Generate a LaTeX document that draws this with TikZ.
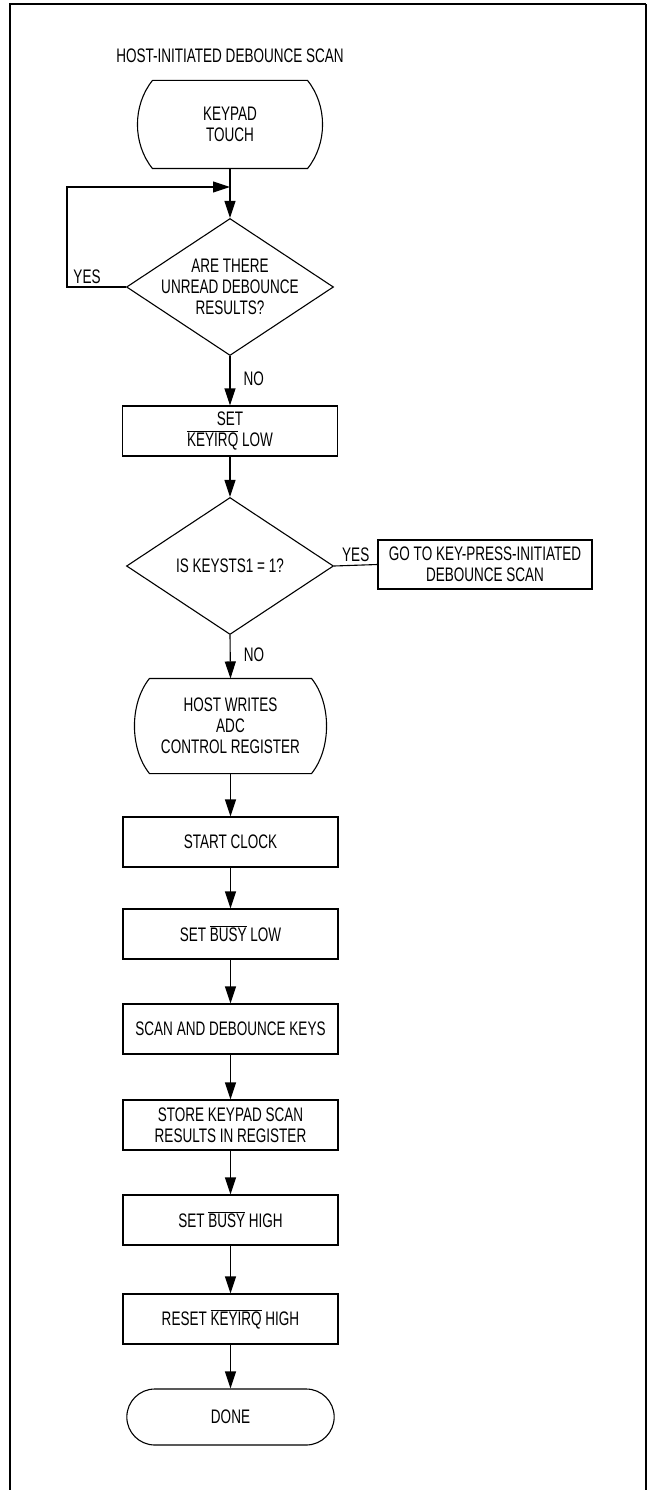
\documentclass[tikz,border=0pt]{standalone}
\usepackage{fontspec}
\setmainfont{Liberation Sans}[FakeStretch=0.69]
\usepackage{tikz}
\usetikzlibrary{arrows.meta,shapes.geometric,shapes.misc}

\newcommand{\ovl}[1]{$\overline{\mbox{#1}}$}
% flat top and bottom, bulging sides
\newcommand{\bulge}[1]{\draw (#1.north west) -- (#1.north east)
    .. controls +(20,-25) and +(20,25) .. (#1.south east) -- (#1.south west)
    .. controls +(-20,25) and +(-20,-25) .. (#1.north west);}

\begin{document}
\begin{tikzpicture}[
    x=1pt, y=1pt, line width=1.1pt,
    arr/.style={-{Triangle[length=17pt,width=11pt]}},
    every node/.style={font=\fontsize{19.6pt}{21pt}\selectfont},
    process/.style={draw, rectangle, minimum width=215pt, minimum height=50pt, align=center, inner sep=2pt},
    decision/.style={draw, diamond, aspect=1.51, minimum width=207pt, minimum height=137pt, inner sep=-4pt, align=center},
    terminal/.style={draw, rounded rectangle, minimum width=214pt, minimum height=56pt},
    bulged/.style={rectangle, align=center, inner sep=0pt},
    lbl/.style={inner sep=3pt}
]
\useasboundingbox (0,0) rectangle (647,-1490);
\draw[line width=2pt] (10,-1490) -- (10,-4) -- (646,-4);
\draw[line width=1.2pt] (646,-4) -- (646,-1490);

\node (title) at (230,-56) {HOST-INITIATED DEBOUNCE SCAN};
\node[bulged, minimum width=154pt, minimum height=87pt] (touch) at (230,-124.5) {KEYPAD\\TOUCH};
\bulge{touch}
\coordinate (merge) at (230,-187);
\node[decision] (unread) at (230,-287) {ARE THERE\\UNREAD DEBOUNCE\\RESULTS?};
\node[process] (irqlow) at (230,-431) {SET\\\ovl{KEYIRQ} LOW};
\node[decision] (keysts) at (230,-566) {IS KEYSTS1 = 1?};
\node[process, minimum width=214pt, minimum height=49pt] (gokey) at (485,-564.5) {GO TO KEY-PRESS-INITIATED\\DEBOUNCE SCAN};
\node[bulged, minimum width=161pt, minimum height=94pt] (adc) at (230.5,-726) {HOST WRITES\\ADC\\CONTROL REGISTER};
\bulge{adc}
\node[process] (clock) at (230.5,-842) {START CLOCK};
\node[process] (busylow) at (230.5,-934) {SET \ovl{BUSY} LOW};
\node[process] (scan) at (230.5,-1029) {SCAN AND DEBOUNCE KEYS};
\node[process] (store) at (230.5,-1125) {STORE KEYPAD SCAN\\RESULTS IN REGISTER};
\node[process] (busyhigh) at (230.5,-1220) {SET \ovl{BUSY} HIGH};
\node[process] (irqhigh) at (230.5,-1319) {RESET \ovl{KEYIRQ} HIGH};
\node[terminal] (done) at (230.5,-1417) {DONE};

\draw[arr] (touch.south) -- (unread.north);
\draw[arr] (unread.west) -- node[lbl, above, pos=0.66] {YES} ++(-59,0) |- (merge);
\draw[arr] (unread.south) -- node[lbl, right=10pt, pos=0.45] {NO} (irqlow.north);
\draw[arr] (irqlow.south) -- (keysts.north);
\draw (keysts.east) -- node[lbl, above] {YES} (gokey.west);
\draw[arr] (keysts.south) -- node[lbl, right=10pt, pos=0.45] {NO} (adc.north);
\draw[arr] (adc.south) -- (clock.north);
\draw[arr] (clock.south) -- (busylow.north);
\draw[arr] (busylow.south) -- (scan.north);
\draw[arr] (scan.south) -- (store.north);
\draw[arr] (store.south) -- (busyhigh.north);
\draw[arr] (busyhigh.south) -- (irqhigh.north);
\draw[arr] (irqhigh.south) -- (done.north);
\end{tikzpicture}
\end{document}
